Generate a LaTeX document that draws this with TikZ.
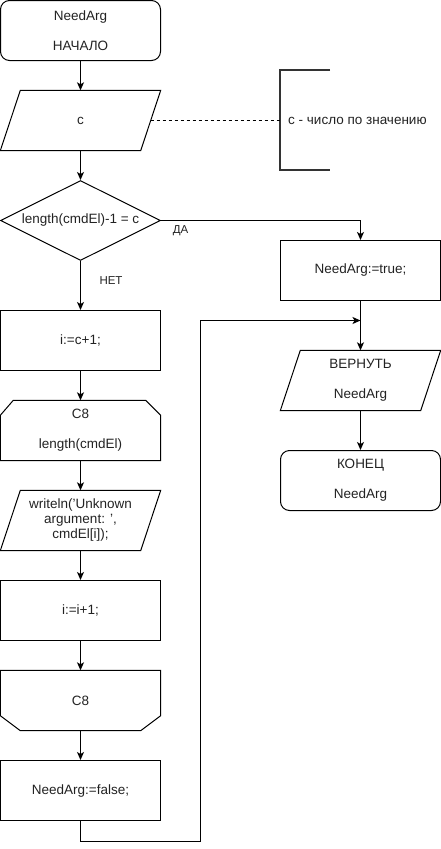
\documentclass[tikz,border=0pt]{standalone}
\usepackage{fontspec}
\setmainfont{Liberation Sans}
\usetikzlibrary{arrows.meta,shapes.geometric,calc}
\definecolor{ink}{HTML}{222222}
\definecolor{bracketgrey}{HTML}{333333}
\begin{document}
\begin{tikzpicture}[x=1pt,y=-1pt,
  font=\fontsize{13.5}{15}\selectfont,
  every node/.style={text=ink},
  line/.style={draw=black,line width=1pt},
  arrow/.style={line,-{Stealth[length=8pt,width=7pt,inset=2pt]}},
  procbox/.style={line,rectangle,minimum width=160pt,minimum height=60pt,inner sep=0pt,align=center},
  termbox/.style={procbox,rounded corners=9pt},
  slot/.style={rectangle,minimum width=160pt,minimum height=60pt,inner sep=0pt,align=center},
  decision/.style={line,diamond,minimum width=160pt,minimum height=80pt,inner sep=0pt,aspect=2},
  lbl/.style={inner sep=0pt},
  small/.style={font=\fontsize{11.5}{13}\selectfont}
]
\useasboundingbox (0,0) rectangle (441,849);

% left column
\node[termbox] (start) at (80.5,30.5) {NeedArg\\[15pt]НАЧАЛО};
\node[slot] (inc) at (80.5,120.5) {c};
\node[decision] (cond) at (80.5,220.5) {};
\node at (80.5,220.5) {length(cmdEl)-1 = c};
\node[procbox] (init) at (80.5,340.5) {i:=c+1;};
\node[slot] (loopbeg) at (80.5,430.5) {C8\\[15pt]length(cmdEl)};
\node[slot] (out) at (80.5,520.5) {writeln('Unknown\\argument: ',\\cmdEl[i]);};
\node[procbox] (step1) at (80.5,610.5) {i:=i+1;};
\node[slot] (loopend) at (80.5,700.5) {C8};
\node[procbox] (setfalse) at (80.5,790.5) {NeedArg:=false;};

% right column
\node[procbox] (settrue) at (360.5,270.5) {NeedArg:=true;};
\node[slot] (ret) at (360.5,380.5) {ВЕРНУТЬ\\[15pt]NeedArg};
\node[termbox] (finish) at (360.5,480.5) {КОНЕЦ\\[15pt]NeedArg};

% parallelogram outlines
\foreach \n in {inc,out,ret}{
  \draw[line] (\n.south west) -- ($(\n.north west)+(20,0)$) -- (\n.north east)
    -- ($(\n.south east)+(-20,0)$) -- cycle;
}
% loop limit outlines
\draw[line] (loopbeg.south west) -- ($(loopbeg.north west)+(0,15)$) -- ($(loopbeg.north west)+(13,0)$)
  -- ($(loopbeg.north east)+(-15,0)$) -- ($(loopbeg.north east)+(0,15)$) -- (loopbeg.south east) -- cycle;
\draw[line] (loopend.north west) -- ($(loopend.south west)+(0,-15)$) -- ($(loopend.south west)+(20,0)$)
  -- ($(loopend.south east)+(-20,0)$) -- ($(loopend.south east)+(0,-15)$) -- (loopend.north east) -- cycle;

% comment bracket
\coordinate (inright) at ($(inc.east)+(-10,0)$);
\coordinate (brk) at (280,120.5);
\draw[bracketgrey,line width=2pt] (330,70) -- (280,70) -- (280,170) -- (330,170);
\draw[black,line width=0.8pt,dash pattern=on 3pt off 3pt] (inright) -- (brk);
\node[lbl,anchor=west] (note) at (288,120.5) {c - число по значению};

% connectors
\draw[arrow] (start) -- (inc);
\draw[arrow] (inc) -- (cond.north);
\draw[arrow] (cond.south) -- (init);
\draw[arrow] (init) -- (loopbeg);
\draw[arrow] (loopbeg) -- (out);
\draw[arrow] (out) -- (step1);
\draw[arrow] (step1) -- (loopend);
\draw[arrow] (loopend) -- (setfalse);
\draw[arrow] (cond.east) -| (settrue.north);
\draw[arrow] (settrue) -- (ret);
\draw[arrow] (ret) -- (finish);
\coordinate (join) at (360.5,320.5);
\draw[arrow] (setfalse.south) -- ++(0,20) -| (200.5,320.5) -- (join);

% branch labels
\node[lbl,small] (yes) at (180.5,230.5) {ДА};
\node[lbl,small] (no) at (111,281) {НЕТ};
\end{tikzpicture}
\end{document}
